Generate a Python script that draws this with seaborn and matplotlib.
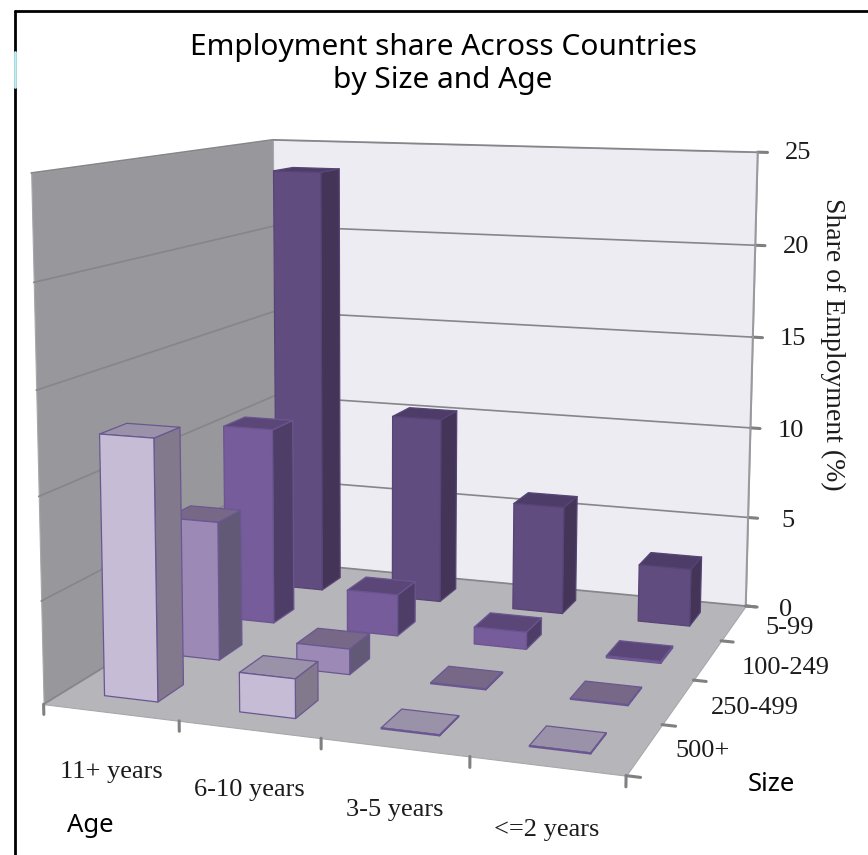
import numpy as np
import pandas as pd
import seaborn as sns
import matplotlib
matplotlib.use("Agg")
import matplotlib.pyplot as plt
from matplotlib.lines import Line2D
from mpl_toolkits.mplot3d.art3d import Poly3DCollection

# ---- data -------------------------------------------------------------
ages = ["11+ years", "6-10 years", "3-5 years", "<=2 years"]
sizes_front_to_back = ["500+", "250-499", "100-249", "5-99"]
share_500 = [12.7, 1.9, 0.05, 0.05]
share_250 = [7.1, 1.3, 0.05, 0.05]
share_100 = [10.5, 2.2, 0.9, 0.1]
share_5 = [23.6, 10.25, 5.9, 3.1]
z_ticks = [0, 5, 10, 15, 20, 25]

title = "Employment share Across Countries\nby Size and Age"

# ---- styles -----------------------------------------------------------
front_cols = ["#C6BCD6", "#9C89B6", "#765C9A", "#614C80"]
side_cols = ["#83798C", "#625976", "#4E3D66", "#443458"]
top_cols = ["#9A92A8", "#776888", "#5A4778", "#4E3C68"]
edge_cols = ["#6A5792", "#6A5792", "#6A5590", "#574476"]
LEFT_WALL, FLOOR, BACK_WALL = "#98979B", "#B6B5B9", "#EDECF2"
GRID = "#85858A"
INK = "#1c1c1c"
size_label_x = [4.37, 4.52, 4.56, 4.425]
size_label_z = [0.25, 0.12, 0.0, 0.0]

W, H = 868, 855
sns.set_theme(style="white")
plt.rcParams["font.family"] = ["Liberation Serif", "DejaVu Serif"]

df = pd.DataFrame(
    {"size": sizes_front_to_back, "vals": [share_500, share_250, share_100, share_5]}
)

fig = plt.figure(figsize=(W / 100, H / 100), dpi=100, facecolor="white")
ax = fig.add_axes([0, 0, 1, 1], projection="3d", computed_zorder=False)
ax.set_axis_off()
ax.set_xlim(0, 4)
ax.set_ylim(0, 4)
ax.set_zlim(0, 25)

# ---- camera: projective map fitted on the frame of the 3-D box ---------
world = np.array([
    [0, 0, 0], [4, 0, 0], [4, 4, 0], [0, 4, 0],
    [0, 0, 25], [0, 4, 25], [4, 4, 25],
    [0, 0, 15], [0, 4, 15], [4, 4, 15],
], float)
seen = np.array([
    [45, 705], [625, 776], [747, 605], [274, 561],
    [30, 172], [274, 140], [757, 152],
    [37, 390], [274, 312], [753, 338],
], float)
ax.apply_aspect()
view = ax.transData.inverted().transform(np.c_[seen[:, 0], H - seen[:, 1]])
rows = []
for (X, Y, Z), (u, v) in zip(world, view):
    rows.append([X, Y, Z, 1, 0, 0, 0, 0, -u * X, -u * Y, -u * Z, -u])
    rows.append([0, 0, 0, 0, X, Y, Z, 1, -v * X, -v * Y, -v * Z, -v])
p = np.linalg.svd(np.array(rows))[2][-1].reshape(3, 4)
if p[2, 3] < 0:
    p = -p
M = np.array([p[0], p[1], [0, 0, 0, -1.0], p[2]])
ax.get_proj = lambda: M


def label3d(x, y, z, s, **kw):
    """Write a text at a 3-D data position, as a plain 2-D text."""
    q = p @ np.array([x, y, z, 1.0])
    ax.text2D(q[0] / q[2], q[1] / q[2], s, transform=ax.transData, clip_on=False,
              ha="center", va="center", color=INK, zorder=50, **kw)


# ---- walls and floor ---------------------------------------------------
walls = [
    ([[(0, 0, 0), (0, 4, 0), (0, 4, 25), (0, 0, 25)]], LEFT_WALL),
    ([[(0, 4, 0), (4, 4, 0), (4, 4, 25), (0, 4, 25)]], BACK_WALL),
    ([[(0, 0, 0), (4, 0, 0), (4, 4, 0), (0, 4, 0)]], FLOOR),
]
for verts, c in walls:
    ax.add_collection3d(Poly3DCollection(verts, facecolors=c, edgecolors="#A8A8AC",
                                         linewidths=0.8, zorder=1))

for t in z_ticks:
    ax.plot([0, 0, 4], [0, 4, 4], [t, t, t], color=GRID, lw=1.2, zorder=2)
    ax.plot([4, 4.075], [4, 4], [t, t], color="#808080", lw=2.2, zorder=2)
ax.plot([4, 4], [4, 4], [0, 25], color="#9A9A9E", lw=1.4, zorder=2)
for i in range(5):
    ax.plot([i, i], [0, 0], [0, -0.5], color="#808080", lw=2.2, zorder=2)
    ax.plot([4, 4.09], [i, i], [0, 0], color="#808080", lw=2.2, zorder=2)

# ---- bars --------------------------------------------------------------
BAR = 0.4
hidden = (0, 0, 0, 0)
order = 10
for r in reversed(range(len(df))):
    for a, val in enumerate(df["vals"][r]):
        # face order of bar3d: bottom, top, front, back, left, right
        faces = [hidden, top_cols[r], front_cols[r], hidden, hidden, side_cols[r]]
        edges = [hidden, edge_cols[r], edge_cols[r], hidden, hidden, edge_cols[r]]
        bars = ax.bar3d(a + (1 - BAR) / 2, r + (1 - BAR) / 2, 0, BAR, BAR, val,
                        color=faces, edgecolor=edges, linewidth=0.9, shade=False)
        bars.set_zorder(order)
        order += 1
ax.set_xlim(0, 4)
ax.set_ylim(0, 4)
ax.set_zlim(0, 25)

# ---- labels ------------------------------------------------------------
TICK_FS = 19
for i, a in enumerate(ages):
    label3d(i + 0.5, 0, -2.9, a, fontsize=TICK_FS)
for r, s in enumerate(sizes_front_to_back):
    label3d(size_label_x[r], r + 0.5, size_label_z[r], s, fontsize=TICK_FS)
for t in z_ticks:
    label3d(4.31, 4, t, str(t), fontsize=TICK_FS)

fig.text(833 / W, 1 - 344 / H, "Share of Employment (%)", rotation=-90, ha="center",
         va="center", fontsize=20, color=INK)
fig.text(443 / W, 1 - 64 / H, title, ha="center", va="center", fontsize=21.5,
         family=["Noto Sans"], color="black", linespacing=1.22)
fig.text(90 / W, 1 - 825 / H, "Age", ha="center", va="center", fontsize=18.5,
         family=["Noto Sans"], color="black")
fig.text(771 / W, 1 - 784 / H, "Size", ha="center", va="center", fontsize=18.5,
         family=["Noto Sans"], color="black")

# ---- frame lines of the page --------------------------------------------
fig.add_artist(Line2D([15 / W, 15 / W], [0, 1 - 11 / H], color="black", lw=2))
fig.add_artist(Line2D([15 / W, 1], [1 - 11 / H, 1 - 11 / H], color="black", lw=2))
fig.add_artist(Line2D([15 / W, 15 / W], [1 - 87 / H, 1 - 52 / H], color="#BDEFF6", lw=2))

fig.savefig("out.png", dpi=100, facecolor="white")
